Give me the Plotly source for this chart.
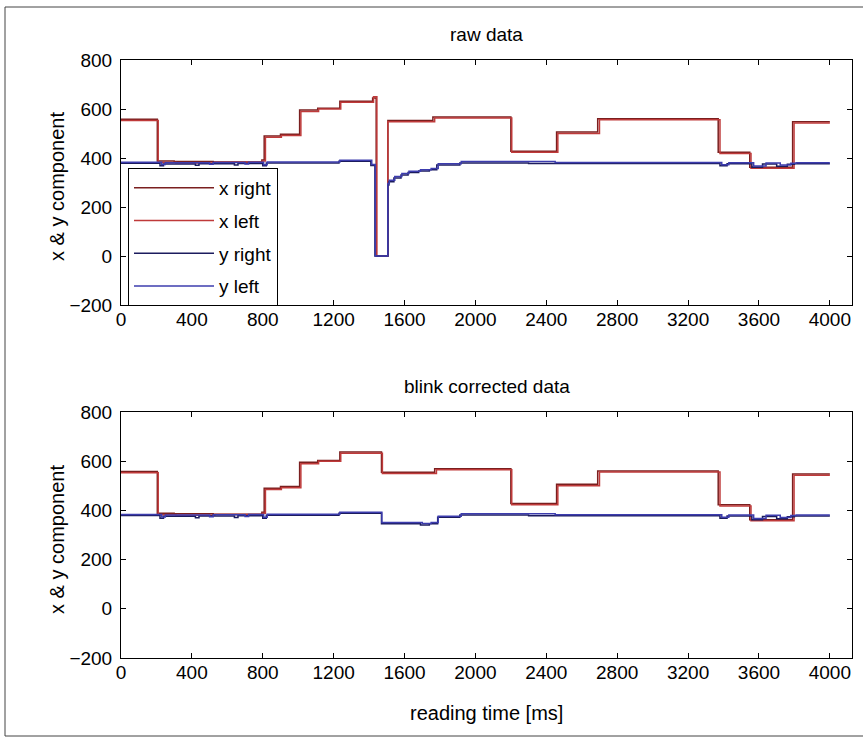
import plotly.graph_objects as go
from plotly.subplots import make_subplots

# ---------------- data (step breakpoints) ----------------
# raw data
raw_xr_t = [0, 205, 300, 520, 795, 808, 900, 1008, 1110, 1235, 1420, 1440, 1506, 1760, 2200, 2458, 2690, 3370, 3548, 3790, 4000]
raw_xr_v = [558, 388, 386, 384, 392, 490, 497, 596, 603, 632, 645, 0, 553, 567, 428, 506, 560, 423, 362, 548, 548]

raw_xl_t = [0, 210, 310, 530, 800, 815, 905, 1015, 1115, 1240, 1425, 1444, 1506, 1770, 2205, 2465, 2700, 3380, 3555, 3798, 4000]
raw_xl_v = [553, 382, 380, 383, 388, 485, 492, 590, 600, 628, 650, 0, 548, 563, 423, 500, 556, 418, 358, 543, 543]

raw_yr_t = [0, 220, 240, 420, 440, 640, 660, 800, 820, 1230, 1410, 1433, 1506, 1512, 1540, 1580, 1620, 1680, 1740, 1782, 1912, 2300, 3380, 3420, 3560, 3620, 3700, 3760, 3800, 4000]
raw_yr_v = [379, 368, 376, 370, 377, 371, 378, 368, 380, 387, 369, 0, 290, 303, 318, 331, 341, 347, 352, 371, 380, 378, 368, 377, 362, 375, 366, 374, 377, 377]

raw_yl_t = [0, 230, 250, 500, 520, 700, 720, 805, 825, 1235, 1415, 1435, 1506, 1514, 1545, 1585, 1625, 1690, 1750, 1790, 1920, 2450, 3390, 3430, 3570, 3640, 3720, 3780, 3810, 4000]
raw_yl_v = [383, 373, 381, 374, 382, 375, 383, 372, 384, 391, 373, 0, 296, 309, 324, 337, 346, 352, 357, 377, 386, 382, 372, 381, 367, 380, 371, 379, 381, 381]

# blink corrected data
cor_xr_t = [0, 205, 300, 520, 795, 808, 900, 1008, 1110, 1235, 1470, 1770, 2200, 2458, 2690, 3370, 3548, 3790, 4000]
cor_xr_v = [558, 388, 386, 384, 392, 490, 497, 596, 603, 637, 555, 569, 428, 506, 560, 423, 362, 548, 548]

cor_xl_t = [0, 210, 310, 530, 800, 815, 905, 1015, 1115, 1240, 1475, 1780, 2205, 2465, 2700, 3380, 3555, 3798, 4000]
cor_xl_v = [553, 382, 380, 383, 388, 485, 492, 590, 600, 632, 550, 565, 423, 500, 556, 418, 358, 543, 543]

cor_yr_t = [0, 220, 240, 420, 440, 640, 660, 800, 820, 1230, 1470, 1690, 1740, 1787, 1912, 2300, 3380, 3420, 3560, 3620, 3700, 3760, 3800, 4000]
cor_yr_v = [379, 368, 376, 370, 377, 371, 378, 368, 380, 388, 346, 341, 346, 372, 381, 378, 368, 377, 362, 375, 366, 374, 377, 377]

cor_yl_t = [0, 230, 250, 500, 520, 700, 720, 805, 825, 1235, 1472, 1700, 1750, 1790, 1920, 2450, 3390, 3430, 3570, 3640, 3720, 3780, 3810, 4000]
cor_yl_v = [383, 373, 381, 374, 382, 375, 383, 372, 384, 392, 351, 347, 351, 376, 386, 382, 372, 381, 367, 380, 371, 379, 381, 381]

names = ["x right", "x left", "y right", "y left"]
colors = ["#7a1f1f", "#bf3a3a", "#1c1c5e", "#3c3cae"]
raw_series = [(raw_xr_t, raw_xr_v), (raw_xl_t, raw_xl_v), (raw_yr_t, raw_yr_v), (raw_yl_t, raw_yl_v)]
cor_series = [(cor_xr_t, cor_xr_v), (cor_xl_t, cor_xl_v), (cor_yr_t, cor_yr_v), (cor_yl_t, cor_yl_v)]

x_ticks = [0, 400, 800, 1200, 1600, 2000, 2400, 2800, 3200, 3600, 4000]
y_ticks = [-200, 0, 200, 400, 600, 800]

# ---------------- figure ----------------
W, H = 863, 738
L, R, T, B = 121, 11, 60, 80
pw, ph = W - L - R, H - T - B

def py2paper(py):
    return (H - B - py) / ph

def px2paper(px):
    return (px - L) / pw

FONT = "Liberation Sans, Arial, sans-serif"

fig = make_subplots(rows=2, cols=1)
for row, series in ((1, raw_series), (2, cor_series)):
    for (t, v), name, col in zip(series, names, colors):
        fig.add_trace(go.Scatter(x=t, y=v, mode="lines", name=name, legendgroup=name,
                                 line=dict(color=col, width=1.5, shape="hv"),
                                 showlegend=(row == 1)), row=row, col=1)

ax_common = dict(showline=True, linecolor="black", linewidth=1, mirror="ticks",
                 ticks="inside", ticklen=5, tickcolor="black", showgrid=False,
                 zeroline=False, tickfont=dict(family=FONT, size=19, color="black"))
for r in (1, 2):
    fig.update_xaxes(range=[0, 4125], tickvals=x_ticks, ticklabelstandoff=-3, **ax_common, row=r, col=1)
    fig.update_yaxes(range=[-200, 800], tickvals=y_ticks, ticklabelstandoff=4, **ax_common, row=r, col=1)

fig.update_layout(
    width=W, height=H,
    margin=dict(l=L, r=R, t=T, b=B),
    paper_bgcolor="white", plot_bgcolor="white",
    font=dict(family=FONT, size=19, color="black"),
    yaxis=dict(domain=[py2paper(305), 1.0]),
    yaxis2=dict(domain=[0.0, py2paper(412)]),
    legend=dict(x=px2paper(128), y=py2paper(168), xanchor="left", yanchor="top",
                bgcolor="white", bordercolor="black", borderwidth=1,
                font=dict(family=FONT, size=19, color="black"),
                itemwidth=80, traceorder="grouped", tracegroupgap=5),
    showlegend=True,
)

annots = [
    dict(text="raw data", x=0.5, y=py2paper(34), size=19),
    dict(text="blink corrected data", x=0.5, y=py2paper(386), size=19),
    dict(text="reading time [ms]", x=0.5, y=py2paper(713), size=20),
    dict(text="x & y component", x=px2paper(57), y=py2paper(187), textangle=-90, size=20),
    dict(text="x & y component", x=px2paper(57), y=py2paper(540), textangle=-90, size=20),
]
for a in annots:
    size = a.pop("size")
    fig.add_annotation(xref="paper", yref="paper", showarrow=False,
                       xanchor="center", yanchor="middle",
                       font=dict(family=FONT, size=size, color="black"), **a)

# outer frame of the picture
fig.add_shape(type="rect", xref="paper", yref="paper",
              x0=px2paper(5), x1=px2paper(875), y0=py2paper(736), y1=py2paper(7),
              line=dict(color="#444444", width=1), layer="below")

fig.write_html("out.html")
